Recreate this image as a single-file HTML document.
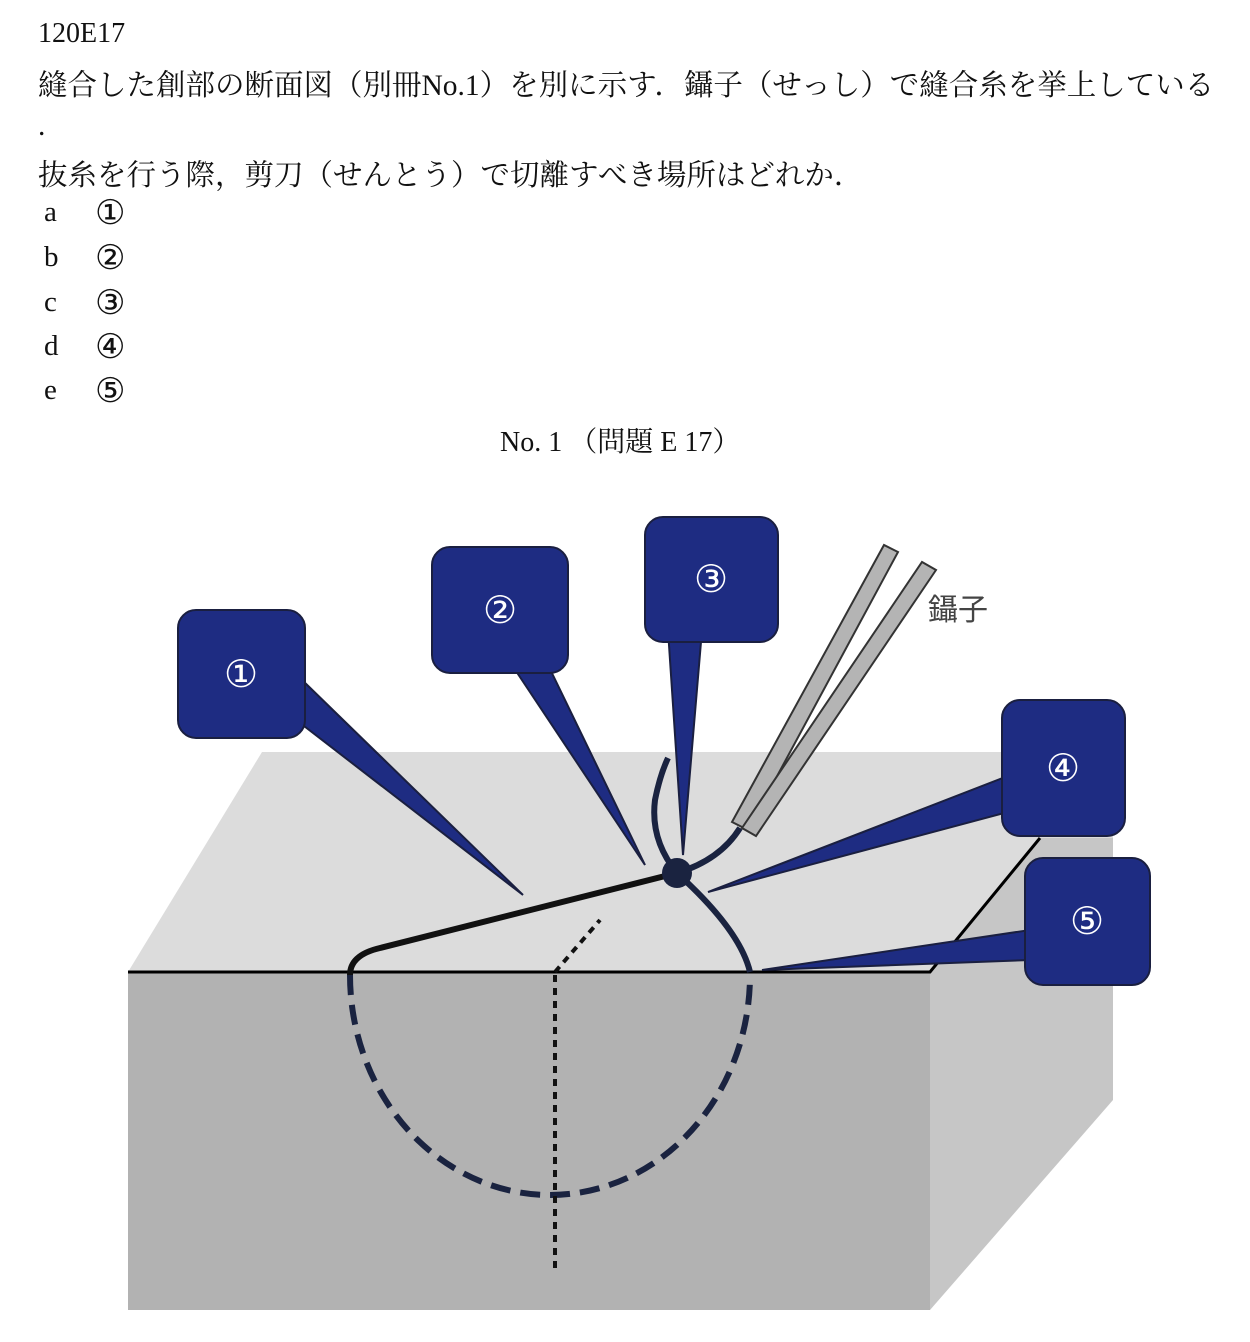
<!DOCTYPE html>
<html><head><meta charset="utf-8"><style>
body{margin:0;width:1250px;height:1342px;background:#fff;position:relative;font-family:"Liberation Serif","Noto Serif CJK SC","Noto Sans CJK JP",serif;color:#111}
.t{position:absolute;left:38px;font-size:29.5px;white-space:nowrap}
.o{position:absolute;font-size:29px;white-space:nowrap}
.c{position:absolute;left:95px;font-size:34px;font-family:"DejaVu Sans",sans-serif;font-weight:300}
</style></head><body>
<div class="t" style="top:18px;font-size:28px">120E17</div>
<div class="t" style="top:62px">縫合した創部の断面図（別冊No.1）を別に示す．鑷子（せっし）で縫合糸を挙上している</div>
<div class="t" style="top:110px">.</div>
<div class="t" style="top:152px">抜糸を行う際，剪刀（せんとう）で切離すべき場所はどれか．</div>
<div class="o" style="top:196px;left:44px">a</div><div class="c" style="top:193px">①</div>
<div class="o" style="top:241px;left:44px">b</div><div class="c" style="top:238px">②</div>
<div class="o" style="top:286px;left:44px">c</div><div class="c" style="top:283px">③</div>
<div class="o" style="top:330px;left:44px">d</div><div class="c" style="top:327px">④</div>
<div class="o" style="top:374px;left:44px">e</div><div class="c" style="top:371px">⑤</div>
<div class="t" style="top:420px;left:500px;font-size:28px">No. 1 （問題 E 17）</div>
<svg width="1250" height="1342" style="position:absolute;left:0;top:0">
<polygon points="128,972 262,752 1113,752 1113,838 930,972" fill="#dcdcdc"/>
<polygon points="930,972 1040,838 1113,838 1113,1100 930,1310" fill="#c6c6c6"/>
<rect x="128" y="972" width="802" height="338" fill="#b2b2b2"/>
<polyline points="128,972 930,972 1040,838" fill="none" stroke="#000" stroke-width="3"/>
<path d="M350,975 A200,220 0 0 0 750,975" fill="none" stroke="#1a2340" stroke-width="6" stroke-dasharray="20,10"/>
<line x1="555" y1="975" x2="555" y2="1270" stroke="#111" stroke-width="4" stroke-dasharray="7,6"/>
<line x1="555" y1="972" x2="600" y2="920" stroke="#111" stroke-width="4" stroke-dasharray="7,6"/>
<path d="M350,975 Q350,955 380,948 L677,873" fill="none" stroke="#111" stroke-width="6"/>
<path d="M677,873 Q650,840 655,800 Q660,775 668,758" fill="none" stroke="#1a2340" stroke-width="6"/>
<path d="M677,873 Q740,930 750,972" fill="none" stroke="#1a2340" stroke-width="6"/>
<path d="M677,873 Q720,860 740,828" fill="none" stroke="#1a2340" stroke-width="6"/>
<circle cx="677" cy="873" r="15" fill="#1a2340"/>
<g stroke="#333" stroke-width="2" fill="#b4b4b4">
<polygon points="732,822 884,545 898,552 748,830"/>
<polygon points="742,828 922,562 936,570 756,836"/>
</g>
<text x="928" y="620" font-size="30" fill="#444" font-family="Noto Sans CJK JP,sans-serif">鑷子</text>
<g fill="#1e2c82" stroke="#1a1f40" stroke-width="2">
<polygon points="300,678 304,726 523,895"/>
<polygon points="512,665 548,665 645,865"/>
<polygon points="668,630 702,630 683,855"/>
<polygon points="1008,776 1008,812 708,892"/>
<polygon points="1030,930 1030,960 762,970"/>
<rect x="178" y="610" width="127" height="128" rx="18"/>
<rect x="432" y="547" width="136" height="126" rx="18"/>
<rect x="645" y="517" width="133" height="125" rx="18"/>
<rect x="1002" y="700" width="123" height="136" rx="18"/>
<rect x="1025" y="858" width="125" height="127" rx="18"/>
</g>
<g fill="#fff" font-size="38" text-anchor="middle" font-family="DejaVu Sans,sans-serif" font-weight="300">
<text x="241" y="687">①</text><text x="500" y="623">②</text><text x="711" y="592">③</text><text x="1063" y="781">④</text><text x="1087" y="934">⑤</text>
</g>
</svg>
</body></html>
